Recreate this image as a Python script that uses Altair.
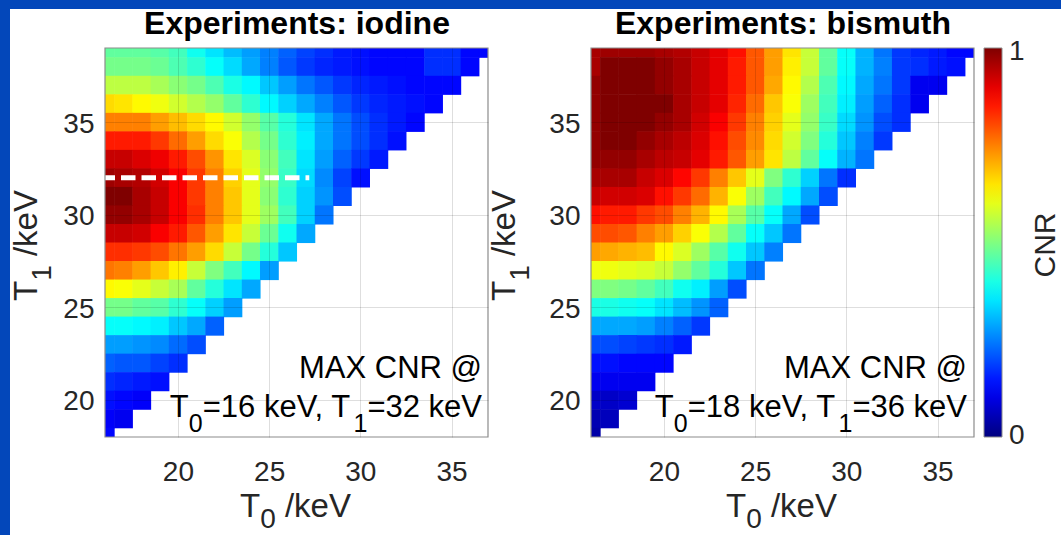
import altair as alt
import pandas as pd

FONT = "Liberation Sans"
BLUE = "#0347BA"

# ---------------- data (CNR, normalised) ----------------
T0_VALUES = [16, 17, 18, 19, 20, 21, 22, 23, 24, 25, 26, 27, 28, 29, 30, 31, 32, 33, 34, 35, 36, 37]
T1_VALUES = [39, 38, 37, 36, 35, 34, 33, 32, 31, 30, 29, 28, 27, 26, 25, 24, 23, 22, 21, 20, 19, 18]

# iodine: one list per T1 row, values for T0 = 16, 17, ...
IOD_39 = [0.47, 0.47, 0.47, 0.46, 0.44, 0.39, 0.35, 0.31, 0.28, 0.25, 0.22, 0.19, 0.17, 0.15, 0.14, 0.13, 0.13, 0.13, 0.17, 0.17, 0.13, 0.13]
IOD_38 = [0.49, 0.49, 0.49, 0.48, 0.45, 0.42, 0.38, 0.34, 0.29, 0.25, 0.21, 0.18, 0.16, 0.15, 0.14, 0.13, 0.13, 0.13, 0.17, 0.17, 0.13]
IOD_37 = [0.56, 0.56, 0.56, 0.54, 0.51, 0.49, 0.45, 0.40, 0.37, 0.32, 0.28, 0.24, 0.21, 0.18, 0.16, 0.15, 0.14, 0.13, 0.13, 0.13]
IOD_36 = [0.66, 0.65, 0.63, 0.61, 0.58, 0.55, 0.52, 0.47, 0.42, 0.37, 0.33, 0.29, 0.25, 0.21, 0.18, 0.16, 0.15, 0.14, 0.13]
IOD_35 = [0.75, 0.75, 0.75, 0.72, 0.69, 0.66, 0.63, 0.58, 0.52, 0.46, 0.41, 0.35, 0.29, 0.24, 0.20, 0.17, 0.15, 0.13]
IOD_34 = [0.85, 0.85, 0.85, 0.82, 0.77, 0.72, 0.66, 0.62, 0.55, 0.49, 0.42, 0.36, 0.29, 0.24, 0.20, 0.17, 0.14]
IOD_33 = [0.93, 0.93, 0.91, 0.89, 0.85, 0.80, 0.73, 0.65, 0.59, 0.51, 0.44, 0.35, 0.28, 0.22, 0.18, 0.15]
IOD_32 = [0.97, 0.96, 0.95, 0.92, 0.88, 0.82, 0.75, 0.67, 0.60, 0.52, 0.43, 0.34, 0.26, 0.19, 0.14]
IOD_31 = [1.00, 1.00, 0.96, 0.93, 0.88, 0.82, 0.75, 0.68, 0.60, 0.51, 0.42, 0.33, 0.27, 0.20]
IOD_30 = [0.98, 0.98, 0.96, 0.93, 0.88, 0.83, 0.75, 0.68, 0.60, 0.53, 0.44, 0.33, 0.24]
IOD_29 = [0.93, 0.93, 0.92, 0.88, 0.85, 0.79, 0.72, 0.65, 0.57, 0.48, 0.39, 0.29]
IOD_28 = [0.83, 0.83, 0.82, 0.80, 0.76, 0.72, 0.66, 0.57, 0.49, 0.41, 0.32]
IOD_27 = [0.76, 0.75, 0.72, 0.68, 0.64, 0.57, 0.50, 0.44, 0.37, 0.28]
IOD_26 = [0.63, 0.62, 0.60, 0.57, 0.54, 0.47, 0.41, 0.35, 0.29]
IOD_25 = [0.49, 0.49, 0.47, 0.46, 0.42, 0.38, 0.33, 0.28]
IOD_24 = [0.38, 0.38, 0.37, 0.36, 0.32, 0.29, 0.22]
IOD_23 = [0.28, 0.28, 0.27, 0.26, 0.23, 0.20]
IOD_22 = [0.22, 0.21, 0.21, 0.19, 0.17]
IOD_21 = [0.17, 0.16, 0.15, 0.14]
IOD_20 = [0.14, 0.13, 0.12]
IOD_19 = [0.12, 0.11]
IOD_18 = [0.13]

# bismuth
BIS_39 = [0.96, 0.97, 0.97, 0.97, 0.96, 0.95, 0.93, 0.90, 0.86, 0.79, 0.72, 0.65, 0.57, 0.47, 0.38, 0.30, 0.24, 0.18, 0.16, 0.15, 0.13, 0.13]
BIS_38 = [0.96, 1.00, 1.00, 1.00, 0.98, 0.96, 0.93, 0.90, 0.85, 0.79, 0.72, 0.64, 0.57, 0.47, 0.38, 0.30, 0.25, 0.18, 0.17, 0.15, 0.14]
BIS_37 = [0.98, 1.00, 1.00, 1.00, 0.98, 0.96, 0.93, 0.90, 0.85, 0.79, 0.71, 0.63, 0.55, 0.45, 0.37, 0.29, 0.24, 0.18, 0.11, 0.11]
BIS_36 = [0.98, 1.00, 1.00, 1.00, 1.00, 0.96, 0.93, 0.90, 0.84, 0.77, 0.68, 0.62, 0.53, 0.44, 0.36, 0.28, 0.22, 0.17, 0.11]
BIS_35 = [0.98, 1.00, 1.00, 1.00, 0.98, 0.96, 0.92, 0.88, 0.82, 0.75, 0.67, 0.60, 0.52, 0.43, 0.34, 0.27, 0.20, 0.17]
BIS_34 = [0.98, 1.00, 1.00, 0.98, 0.96, 0.94, 0.91, 0.86, 0.80, 0.74, 0.66, 0.58, 0.50, 0.41, 0.32, 0.25, 0.18]
BIS_33 = [0.98, 0.98, 0.98, 0.96, 0.94, 0.93, 0.90, 0.85, 0.79, 0.72, 0.65, 0.56, 0.47, 0.38, 0.30, 0.24]
BIS_32 = [0.96, 0.96, 0.96, 0.93, 0.91, 0.87, 0.82, 0.75, 0.68, 0.60, 0.50, 0.42, 0.33, 0.24, 0.17]
BIS_31 = [0.93, 0.92, 0.92, 0.91, 0.86, 0.82, 0.77, 0.70, 0.62, 0.53, 0.44, 0.37, 0.29, 0.20]
BIS_30 = [0.86, 0.85, 0.85, 0.82, 0.80, 0.75, 0.70, 0.63, 0.54, 0.46, 0.38, 0.29, 0.20]
BIS_29 = [0.80, 0.80, 0.79, 0.75, 0.72, 0.67, 0.62, 0.55, 0.47, 0.38, 0.32, 0.24]
BIS_28 = [0.72, 0.71, 0.70, 0.69, 0.63, 0.59, 0.53, 0.46, 0.39, 0.32, 0.25]
BIS_27 = [0.61, 0.61, 0.60, 0.59, 0.57, 0.52, 0.47, 0.41, 0.32, 0.24]
BIS_26 = [0.50, 0.50, 0.49, 0.47, 0.44, 0.39, 0.36, 0.28, 0.20]
BIS_25 = [0.40, 0.40, 0.39, 0.38, 0.35, 0.31, 0.27, 0.22]
BIS_24 = [0.29, 0.29, 0.29, 0.28, 0.25, 0.22, 0.18]
BIS_23 = [0.20, 0.20, 0.19, 0.18, 0.17, 0.15]
BIS_22 = [0.14, 0.14, 0.13, 0.13, 0.13]
BIS_21 = [0.11, 0.11, 0.11, 0.11]
BIS_20 = [0.07, 0.07, 0.08]
BIS_19 = [0.05, 0.06]
BIS_18 = [0.04]

IODINE_ROWS = [IOD_39, IOD_38, IOD_37, IOD_36, IOD_35, IOD_34, IOD_33, IOD_32, IOD_31, IOD_30, IOD_29,
               IOD_28, IOD_27, IOD_26, IOD_25, IOD_24, IOD_23, IOD_22, IOD_21, IOD_20, IOD_19, IOD_18]
BISMUTH_ROWS = [BIS_39, BIS_38, BIS_37, BIS_36, BIS_35, BIS_34, BIS_33, BIS_32, BIS_31, BIS_30, BIS_29,
                BIS_28, BIS_27, BIS_26, BIS_25, BIS_24, BIS_23, BIS_22, BIS_21, BIS_20, BIS_19, BIS_18]

# dashed marker line (iodine panel)
LINE_T0 = [16, 27.2]
LINE_T1 = [32]

X_TICKS = [20, 25, 30, 35]
Y_TICKS = [20, 25, 30, 35]
# colour-bar labels "0" and "1" (placed a hair inside the ends so they centre on them)
CBAR_TICKS = [0.003, 0.99]

TITLES = ["Experiments: iodine", "Experiments: bismuth"]
NOTE_LINE1 = "MAX CNR @"
IODINE_NOTE = ["T", "0", "=16 keV, T", "1", "=32 keV"]
BISMUTH_NOTE = ["T", "0", "=18 keV, T", "1", "=36 keV"]
XTITLE = ["T", "0", " /keV"]
YTITLE = ["T", "1", " /keV"]
CBAR_TITLE = "CNR"

JET_DOMAIN = [0, 0.125, 0.375, 0.625, 0.875, 1]
JET_RANGE = ["#00007F", "#0000FF", "#00FFFF", "#FFFF00", "#FF0000", "#7F0000"]

# ---------------- layout helpers ----------------
W, H = 383, 389
GAP = 103          # room between the two plot areas (axis labels + titles)
SEAM = 0.03        # tiny overlap between neighbouring cells (hides anti-alias seams)
AX = "#262626"
ARIAL = {"T": 0.611, "=": 0.584, " ": 0.278, "k": 0.5, "e": 0.556, "V": 0.667,
         ",": 0.278, "/": 0.278}


def text_width(s, size):
    return sum(ARIAL.get(c, 0.556) for c in s) * size


def frame_df(rows):
    recs = []
    for t1, vals in zip(T1_VALUES, rows):
        for i, v in enumerate(vals):
            t0 = T0_VALUES[i]
            recs.append({"T0": t0, "T1": t1, "x0": t0 - 0.5, "x1": t0 + 0.5 + SEAM,
                         "y0": t1 - 0.5 - SEAM, "y1": t1 + 0.5, "v": v})
    return pd.DataFrame(recs)


ONE = pd.DataFrame({"k": [0]})

XS = alt.Scale(domain=[16, 37], nice=False, zero=False)
YS = alt.Scale(domain=[18, 39], nice=False, zero=False)
CS = alt.Scale(domain=JET_DOMAIN, range=JET_RANGE, interpolate="rgb")

XAX = alt.Axis(values=X_TICKS, title=None, labelFontSize=28, labelFont=FONT, labelColor=AX,
               ticks=False, tickSize=0, domain=False, grid=True, gridColor="#000000",
               gridOpacity=0.13, gridWidth=1, labelPadding=21, zindex=1, format="d",
               labelFlush=False)
YAX = alt.Axis(values=Y_TICKS, title=None, labelFontSize=28, labelFont=FONT, labelColor=AX,
               ticks=False, tickSize=0, domain=False, grid=True, gridColor="#000000",
               gridOpacity=0.13, gridWidth=1, labelPadding=11, labelOffset=2, zindex=1,
               format="d", labelFlush=False)


def txt(s, x, y, size, dx=0, dy=0, angle=0, align="left", weight="normal", color="#000000"):
    return alt.Chart(pd.DataFrame({"t": [s]})).mark_text(
        font=FONT, fontSize=size, fontWeight=weight, align=align, baseline="alphabetic",
        dx=dx, dy=dy, angle=angle, color=color,
    ).encode(x=alt.value(x), y=alt.value(y), text="t:N")


def segments(parts, sizes, dys, x, y, angle=0, color="#000000"):
    layers = []
    off = 0.0
    for p, s, d in zip(parts, sizes, dys):
        core = p.lstrip(" ")
        off += text_width(p[: len(p) - len(core)], s)
        layers.append(txt(core, x, y, s, dx=off, dy=d, angle=angle, color=color))
        off += text_width(core, s)
    return layers


def strip(x, x2, y, y2):
    return alt.Chart(ONE).mark_rect(color=BLUE).encode(
        x=alt.value(x), x2=alt.value(x2), y=alt.value(y), y2=alt.value(y2))


def panel(rows, title, note, ytitle_x, note_right, first, with_line, with_legend):
    df = frame_df(rows)
    if with_legend:
        leg = alt.Legend(type="gradient", orient="none", legendX=393, legendY=0,
                         direction="vertical", gradientLength=H, gradientThickness=18,
                         title=None, values=CBAR_TICKS, format="d", labelFontSize=28,
                         labelFont=FONT, labelColor=AX, labelOffset=7, padding=0,
                         gradientStrokeColor="#8c8c8c", gradientStrokeWidth=1)
    else:
        leg = None
    cells = alt.Chart(df).mark_rect(clip=True, strokeWidth=0).encode(
        x=alt.X("x0:Q", scale=XS, axis=XAX),
        x2="x1:Q",
        y=alt.Y("y0:Q", scale=YS, axis=YAX),
        y2="y1:Q",
        color=alt.Color("v:Q", scale=CS, legend=leg),
    )
    layers = [cells]
    if with_line:
        ldf = pd.DataFrame({"xa": [LINE_T0[0]], "xb": [LINE_T0[1]], "y": LINE_T1})
        layers.append(alt.Chart(ldf).mark_rule(color="white", strokeWidth=5,
                                               strokeDash=[14.5, 6], strokeDashOffset=4.5,
                                               clip=True).encode(
            x=alt.X("xa:Q", scale=XS, axis=XAX), x2="xb:Q",
            y=alt.Y("y:Q", scale=YS, axis=YAX)))
    # frame
    layers.append(alt.Chart(ONE).mark_rect(fillOpacity=0, stroke="#8c8c8c", strokeWidth=1.2).encode(
        x=alt.value(0), x2=alt.value(W), y=alt.value(0), y2=alt.value(H)))
    # blue slide border (top and left)
    if first:
        layers.append(strip(-105, 956, -48, -39))
        layers.append(strip(-105, -95, -48, 487))
    # title
    layers.append(txt(title, 192, -14, 32, align="center", weight="bold"))
    # annotation
    layers.append(txt(NOTE_LINE1, note_right, 330, 31, align="right"))
    sizes = [31, 25, 31, 25, 31]
    total = sum(text_width(p, s) for p, s in zip(note, sizes))
    layers += segments(note, sizes, [0, 15, 0, 15, 0], note_right - total, 369)
    # axis titles
    layers += segments(XTITLE, [33, 28, 33], [0, 11, 0], 135, 469, color=AX)
    layers += segments(YTITLE, [33, 28, 33], [0, 14, 0], ytitle_x, 253, angle=270, color=AX)
    if with_legend:
        layers.append(txt(CBAR_TITLE, 464, 197, 30, angle=270, align="center", color=AX))
    return alt.layer(*layers).properties(width=W, height=H)


left = panel(IODINE_ROWS, TITLES[0], IODINE_NOTE, -68, 377, True, True, False)
right = panel(BISMUTH_ROWS, TITLES[1], BISMUTH_NOTE, -76, 376, False, False, True)

chart = alt.hconcat(left, right, spacing=GAP, bounds="flush").resolve_scale(
    color="independent"
).properties(padding=0, background="white").configure_view(stroke=None)

chart.save("out.html", embed_options={"renderer": "svg", "actions": False})
